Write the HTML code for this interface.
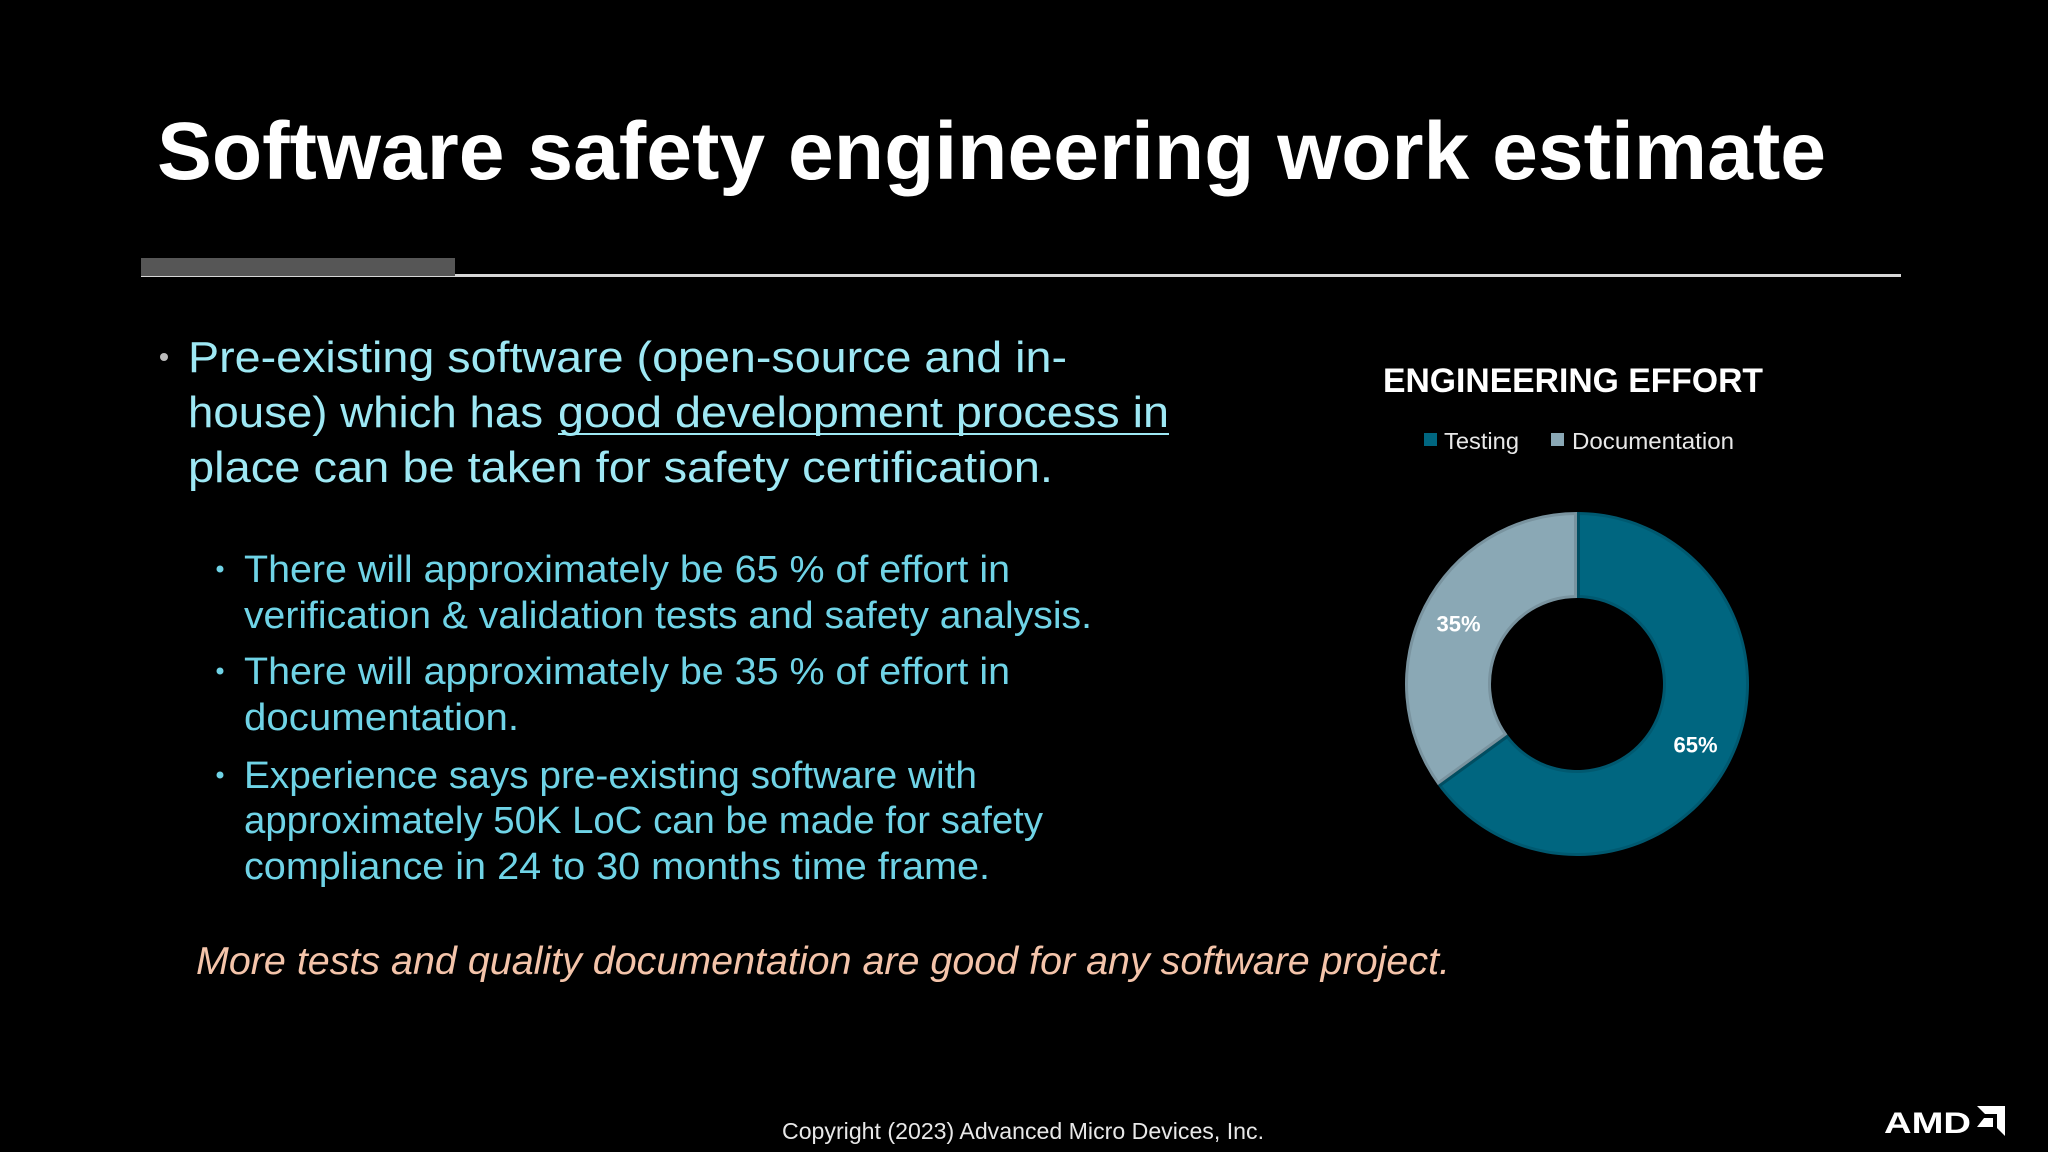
<!DOCTYPE html>
<html><head><meta charset="utf-8"><style>
html,body{margin:0;padding:0;background:#000;}
svg{display:block;}
text{font-family:"Liberation Sans",sans-serif;}
</style></head><body>
<svg width="2048" height="1152" viewBox="0 0 2048 1152" xmlns="http://www.w3.org/2000/svg">
<rect width="2048" height="1152" fill="#000"/>
<text x="157" y="179" font-size="82" font-weight="bold" fill="#fff" textLength="1669" lengthAdjust="spacingAndGlyphs">Software safety engineering work estimate</text>
<rect x="141" y="274" width="1760" height="3" fill="#d8d8d8"/>
<rect x="141" y="258" width="314" height="18" fill="#565656"/>

<g fill="#9ee8f4" font-size="44">
<circle cx="164" cy="357" r="4" fill="#bbb"/>
<text x="188" y="372" textLength="879" lengthAdjust="spacingAndGlyphs">Pre-existing software (open-source and in-</text>
<text x="188" y="427" textLength="355" lengthAdjust="spacingAndGlyphs">house) which has</text>
<text x="558" y="427" textLength="611" lengthAdjust="spacingAndGlyphs">good development process in</text>
<text x="188" y="482" textLength="865" lengthAdjust="spacingAndGlyphs">place can be taken for safety certification.</text>
</g>
<rect x="558" y="433" width="611" height="2" fill="#9ee8f4"/>

<g fill="#6fd3e6" font-size="38">
<circle cx="220" cy="569" r="3.5"/>
<text x="244" y="582" textLength="766" lengthAdjust="spacingAndGlyphs">There will approximately be 65 % of effort in</text>
<text x="244" y="628" textLength="848" lengthAdjust="spacingAndGlyphs">verification &amp; validation tests and safety analysis.</text>
<circle cx="220" cy="671" r="3.5"/>
<text x="244" y="684" textLength="766" lengthAdjust="spacingAndGlyphs">There will approximately be 35 % of effort in</text>
<text x="244" y="730" textLength="275" lengthAdjust="spacingAndGlyphs">documentation.</text>
<circle cx="220" cy="775" r="3.5"/>
<text x="244" y="788" textLength="733" lengthAdjust="spacingAndGlyphs">Experience says pre-existing software with</text>
<text x="244" y="833" textLength="799" lengthAdjust="spacingAndGlyphs">approximately 50K LoC can be made for safety</text>
<text x="244" y="879" textLength="746" lengthAdjust="spacingAndGlyphs">compliance in 24 to 30 months time frame.</text>
</g>

<text x="196" y="974" font-size="39" font-style="italic" fill="#f4c4aa" textLength="1254" lengthAdjust="spacingAndGlyphs">More tests and quality documentation are good for any software project.</text>

<text x="1383" y="392" font-size="34" font-weight="bold" fill="#fff" textLength="380" lengthAdjust="spacingAndGlyphs">ENGINEERING EFFORT</text>
<g font-size="23" fill="#e8e8e8">
<rect x="1424" y="433" width="13" height="13" fill="#006680"/>
<text x="1444" y="449" textLength="75" lengthAdjust="spacingAndGlyphs">Testing</text>
<rect x="1551" y="433" width="13" height="13" fill="#8aa8b5"/>
<text x="1572" y="449" textLength="162" lengthAdjust="spacingAndGlyphs">Documentation</text>
</g>
<g id="donut"></g>

<text x="1023" y="1139" font-size="23" fill="#e8e8e8" text-anchor="middle" textLength="482" lengthAdjust="spacingAndGlyphs">Copyright (2023) Advanced Micro Devices, Inc.</text>
<g>
<text x="1884" y="1133" font-size="30" font-weight="bold" fill="#fff" textLength="87" lengthAdjust="spacingAndGlyphs">AMD</text>
<path d="M1977 1106 H2005 V1136 L1997 1128 V1114 H1985 Z" fill="#fff"/>
<path d="M1984 1118 H1993 V1127 H1984 Z M1977 1127 L1984 1118 L1984 1127 Z" fill="#fff"/>
</g>
</svg>
<script>
const categories = ["Testing", "Documentation"];
const values = [65, 35];
const labels = ["65%", "35%"];
const colors = ["#006680", "#8aa8b5"];
const cx = 1577, cy = 684, R = 172, r = 86;
const g = document.getElementById('donut');
const ns = "http://www.w3.org/2000/svg";
const total = values.reduce((a,b)=>a+b,0);
function pt(a, rad){ return [cx + rad*Math.sin(a), cy - rad*Math.cos(a)]; }
let start = 0;
values.forEach((v,i)=>{
  const ang = v/total*2*Math.PI, end = start+ang, large = ang>Math.PI?1:0;
  const [x1,y1]=pt(start,R),[x2,y2]=pt(end,R),[x3,y3]=pt(end,r),[x4,y4]=pt(start,r);
  const p = document.createElementNS(ns,'path');
  p.setAttribute('d',`M${x1} ${y1} A${R} ${R} 0 ${large} 1 ${x2} ${y2} L${x3} ${y3} A${r} ${r} 0 ${large} 0 ${x4} ${y4} Z`);
  p.setAttribute('fill',colors[i]);
  p.setAttribute('stroke','rgba(0,0,0,0.12)');
  p.setAttribute('stroke-width','6');
  
  
  g.appendChild(p);
  const mid = start + ang/2;
  const [lx,ly] = pt(mid,(R+r)/2+4);
  const t = document.createElementNS(ns,'text');
  t.setAttribute('x',lx); t.setAttribute('y',ly+8);
  t.setAttribute('text-anchor','middle');
  t.setAttribute('font-size','22'); t.setAttribute('font-weight','bold'); t.setAttribute('fill','#fff');
  t.textContent = labels[i];
  
  
  g.appendChild(t);
  start = end;
});
</script>
</body></html>
